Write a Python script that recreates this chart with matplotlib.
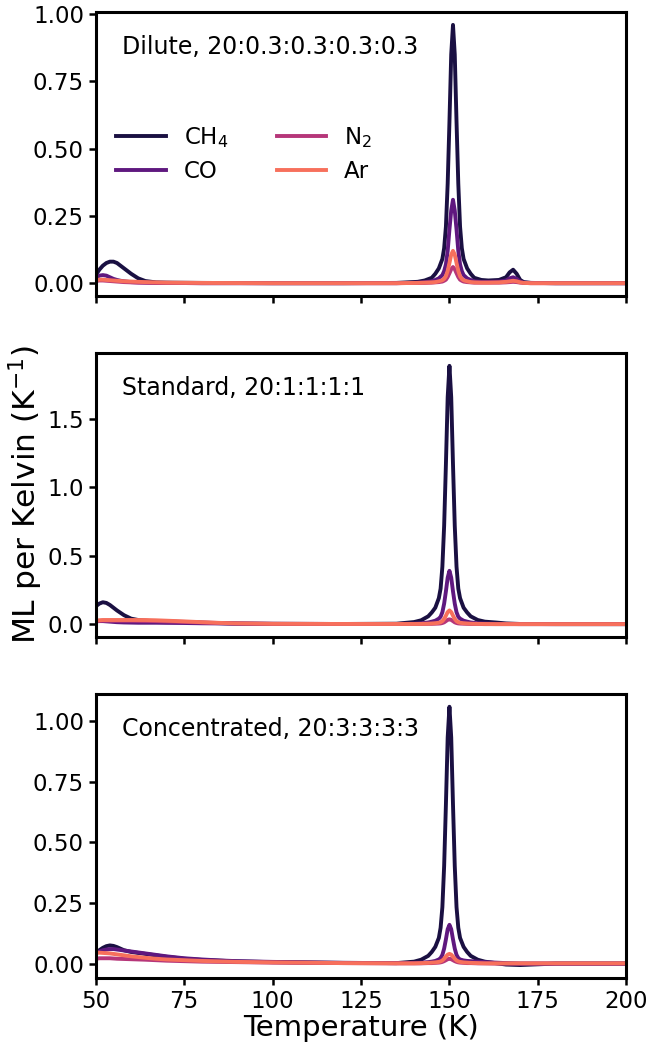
import numpy as np
import matplotlib
matplotlib.use("Agg")
import matplotlib.pyplot as plt

# TPD-Kurven, ML pro Kelvin, drei Mischungen (CH4:CO:N2:Ar)
species = ["CH$_4$", "CO", "N$_2$", "Ar"]
colors = ["#1a1042", "#5f187f", "#b63679", "#f7705c"]
panel_titles = ["Dilute, 20:0.3:0.3:0.3:0.3", "Standard, 20:1:1:1:1", "Concentrated, 20:3:3:3:3"]

# --- dilute ---
temp_dilute = [50, 51, 52, 53, 54, 55, 56, 57, 58, 60, 62, 64,
               67, 70, 80, 100, 120, 135, 141, 143, 145, 146, 147, 148,
               148.5, 149, 149.5, 150, 150.5, 151, 151.5, 152, 152.5, 153, 153.5, 154,
               155, 156, 157, 159, 161, 164, 166, 167, 168, 169, 170, 171,
               173, 180, 200]
ch4_dilute = [0.03, 0.05, 0.065, 0.075, 0.08, 0.08, 0.075, 0.065, 0.055, 0.035, 0.018, 0.008,
              0.003, 0.002, 0.001, 0.0, 0.0, 0.001, 0.005, 0.01, 0.02, 0.035, 0.055, 0.09,
              0.13, 0.21, 0.37, 0.6, 0.85, 0.96, 0.85, 0.6, 0.37, 0.21, 0.13, 0.09,
              0.055, 0.035, 0.02, 0.012, 0.01, 0.012, 0.022, 0.04, 0.05, 0.035, 0.012, 0.004,
              0.001, 0.0, 0.0]
co_dilute = [0.02, 0.028, 0.03, 0.028, 0.022, 0.016, 0.012, 0.009, 0.007, 0.004, 0.003, 0.002,
             0.001, 0.001, 0.0, 0.0, 0.0, 0.0, 0.002, 0.004, 0.007, 0.012, 0.018, 0.03,
             0.045, 0.07, 0.12, 0.2, 0.27, 0.31, 0.27, 0.2, 0.12, 0.07, 0.045, 0.03,
             0.018, 0.012, 0.007, 0.005, 0.005, 0.006, 0.01, 0.018, 0.022, 0.016, 0.006, 0.002,
             0.001, 0.0, 0.0]
n2_dilute = [0.008, 0.01, 0.01, 0.009, 0.008, 0.007, 0.006, 0.005, 0.004, 0.003, 0.002, 0.002,
             0.001, 0.001, 0.0, 0.0, 0.0, 0.0, 0.001, 0.001, 0.002, 0.003, 0.004, 0.006,
             0.009, 0.013, 0.023, 0.037, 0.052, 0.06, 0.052, 0.037, 0.023, 0.013, 0.009, 0.006,
             0.004, 0.003, 0.002, 0.002, 0.002, 0.002, 0.003, 0.004, 0.005, 0.004, 0.002, 0.001,
             0.0, 0.0, 0.0]
ar_dilute = [0.012, 0.013, 0.013, 0.012, 0.011, 0.01, 0.009, 0.008, 0.007, 0.006, 0.005, 0.004,
             0.003, 0.002, 0.001, 0.0, 0.0, 0.0, 0.001, 0.002, 0.003, 0.004, 0.007, 0.011,
             0.016, 0.026, 0.046, 0.075, 0.106, 0.12, 0.106, 0.075, 0.046, 0.026, 0.016, 0.011,
             0.007, 0.004, 0.003, 0.002, 0.002, 0.003, 0.005, 0.007, 0.009, 0.007, 0.003, 0.001,
             0.0, 0.0, 0.0]

# --- standard ---
temp_standard = [50, 51, 52, 53, 54, 55, 56, 58, 60, 62, 64, 67,
                 70, 75, 80, 85, 90, 100, 120, 135, 140, 142, 144, 145,
                 146, 147, 147.5, 148, 148.5, 149, 149.5, 150, 150.5, 151, 151.5, 152,
                 152.5, 153, 154, 155, 156, 158, 160, 163, 166, 170, 180, 200]
ch4_standard = [0.13, 0.15, 0.16, 0.155, 0.14, 0.12, 0.10, 0.065, 0.04, 0.03, 0.025, 0.02,
                0.018, 0.015, 0.01, 0.007, 0.004, 0.002, 0.001, 0.003, 0.015, 0.028, 0.057, 0.085,
                0.12, 0.19, 0.26, 0.42, 0.72, 1.17, 1.66, 1.89, 1.66, 1.17, 0.72, 0.42,
                0.26, 0.19, 0.12, 0.085, 0.057, 0.03, 0.018, 0.012, 0.005, 0.001, 0.0, 0.0]
co_standard = [0.02, 0.022, 0.022, 0.02, 0.018, 0.016, 0.014, 0.012, 0.011, 0.01, 0.01, 0.01,
               0.009, 0.008, 0.006, 0.005, 0.003, 0.002, 0.001, 0.001, 0.003, 0.006, 0.012, 0.018,
               0.025, 0.04, 0.054, 0.087, 0.15, 0.24, 0.34, 0.39, 0.34, 0.24, 0.15, 0.087,
               0.054, 0.04, 0.025, 0.018, 0.012, 0.006, 0.004, 0.002, 0.001, 0.0, 0.0, 0.0]
n2_standard = [0.022, 0.024, 0.025, 0.025, 0.025, 0.025, 0.025, 0.025, 0.025, 0.024, 0.023, 0.022,
               0.02, 0.016, 0.012, 0.008, 0.005, 0.002, 0.001, 0.001, 0.001, 0.001, 0.002, 0.002,
               0.003, 0.004, 0.005, 0.008, 0.013, 0.022, 0.031, 0.035, 0.031, 0.022, 0.013, 0.008,
               0.005, 0.004, 0.003, 0.002, 0.001, 0.001, 0.0, 0.0, 0.0, 0.0, 0.0, 0.0]
ar_standard = [0.025, 0.028, 0.03, 0.03, 0.03, 0.03, 0.03, 0.03, 0.03, 0.03, 0.03, 0.028,
               0.025, 0.02, 0.014, 0.009, 0.005, 0.002, 0.001, 0.001, 0.001, 0.0015, 0.003, 0.0045,
               0.0065, 0.01, 0.014, 0.022, 0.038, 0.062, 0.088, 0.1, 0.088, 0.062, 0.038, 0.022,
               0.014, 0.01, 0.0065, 0.0045, 0.003, 0.0015, 0.001, 0.0, 0.0, 0.0, 0.0, 0.0]

# --- concentrated ---
temp_conc = temp_standard
ch4_conc = [0.04, 0.055, 0.065, 0.072, 0.075, 0.073, 0.068, 0.055, 0.048, 0.044, 0.04, 0.034,
            0.028, 0.02, 0.015, 0.012, 0.009, 0.006, 0.003, 0.002, 0.008, 0.016, 0.032, 0.048,
            0.069, 0.106, 0.148, 0.233, 0.403, 0.657, 0.933, 1.06, 0.933, 0.657, 0.403, 0.233,
            0.148, 0.106, 0.069, 0.048, 0.032, 0.016, 0.008, 0.002, -0.004, -0.006, 0.0, 0.0]
co_conc = [0.045, 0.05, 0.055, 0.058, 0.06, 0.06, 0.058, 0.054, 0.05, 0.046, 0.042, 0.036,
           0.03, 0.022, 0.017, 0.013, 0.01, 0.007, 0.003, 0.002, 0.003, 0.004, 0.006, 0.008,
           0.011, 0.017, 0.023, 0.036, 0.062, 0.1, 0.142, 0.16, 0.142, 0.1, 0.062, 0.036,
           0.023, 0.017, 0.013, 0.011, 0.01, 0.008, 0.006, 0.004, 0.002, 0.0, 0.0, 0.0]
n2_conc = [0.02, 0.022, 0.022, 0.022, 0.022, 0.021, 0.02, 0.019, 0.018, 0.017, 0.016, 0.014,
           0.012, 0.01, 0.008, 0.007, 0.006, 0.004, 0.002, 0.001, 0.001, 0.001, 0.002, 0.002,
           0.003, 0.004, 0.005, 0.007, 0.01, 0.014, 0.018, 0.02, 0.018, 0.014, 0.01, 0.007,
           0.005, 0.004, 0.003, 0.002, 0.002, 0.001, 0.001, 0.0, 0.0, 0.0, 0.0, 0.0]
ar_conc = [0.045, 0.045, 0.044, 0.043, 0.042, 0.04, 0.038, 0.034, 0.03, 0.027, 0.024, 0.02,
           0.017, 0.014, 0.011, 0.009, 0.007, 0.005, 0.002, 0.001, 0.001, 0.002, 0.003, 0.004,
           0.005, 0.007, 0.009, 0.013, 0.02, 0.029, 0.037, 0.04, 0.037, 0.029, 0.02, 0.013,
           0.009, 0.007, 0.005, 0.004, 0.003, 0.002, 0.001, 0.001, 0.001, 0.001, 0.001, 0.001]

panels = [
    (temp_dilute, [ch4_dilute, co_dilute, n2_dilute, ar_dilute]),
    (temp_standard, [ch4_standard, co_standard, n2_standard, ar_standard]),
    (temp_conc, [ch4_conc, co_conc, n2_conc, ar_conc]),
]
yticks = [[0, 0.25, 0.5, 0.75, 1.0], [0, 0.5, 1.0, 1.5], [0, 0.25, 0.5, 0.75, 1.0]]

fig, axes = plt.subplots(3, 1, figsize=(6.47, 10.51), dpi=100, sharex=True)
fig.subplots_adjust(left=0.148, right=0.968, top=0.9886, bottom=0.0695, hspace=0.2)

for i, ax in enumerate(axes):
    temp, series = panels[i]
    for j, vals in enumerate(series):
        ax.plot(temp, vals, color=colors[j], lw=2.8, label=species[j])
    ax.set_xlim(50, 200)
    ax.set_xticks([50, 75, 100, 125, 150, 175, 200])
    ax.set_yticks(yticks[i])
    ax.tick_params(labelsize=16.5, width=1.8, length=5)
    for sp in ax.spines.values():
        sp.set_linewidth(2.2)
    ax.text(0.05, 0.877, panel_titles[i], transform=ax.transAxes, fontsize=17, va="center")

axes[0].legend(ncol=2, frameon=False, fontsize=16.5, loc="center left",
               bbox_to_anchor=(0.0, 0.5), handlelength=2.15, columnspacing=2.1, labelspacing=0.45)
axes[1].set_ylabel("ML per Kelvin (K$^{-1}$)", fontsize=22.5, labelpad=2)
axes[2].set_xlabel("Temperature (K)", fontsize=21, labelpad=1)

plt.savefig("out.png", dpi=100)
